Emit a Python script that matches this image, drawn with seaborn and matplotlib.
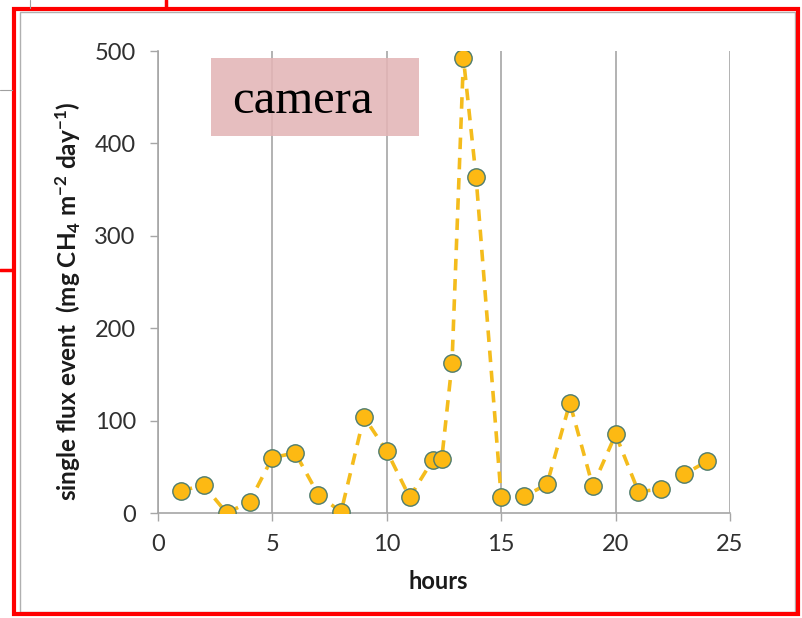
import matplotlib
matplotlib.use("Agg")
import matplotlib.pyplot as plt
import seaborn as sns
import pandas as pd
from matplotlib.patches import Rectangle

hours = [1, 2, 3, 4, 5, 6, 7, 8, 9, 10, 11, 12, 12.4, 12.85, 13.35, 13.9,
         15, 16, 17, 18, 19, 20, 21, 22, 23, 24]
flux = [24, 30, 0, 12, 60, 65, 20, 1, 104, 67, 17, 57, 58, 162, 492, 364,
        17, 18, 31, 119, 29, 85, 23, 26, 42, 56]
xticks = [0, 5, 10, 15, 20, 25]
yticks = [0, 100, 200, 300, 400, 500]
label_text = "camera"

sns.set_theme(style="white")
plt.rcParams['font.family'] = ['Lato', 'DejaVu Sans']
plt.rcParams['mathtext.fontset'] = 'custom'
plt.rcParams['mathtext.rm'] = 'Lato:bold'
plt.rcParams['mathtext.it'] = 'Lato:bold'
plt.rcParams['mathtext.bf'] = 'Lato:bold'
plt.rcParams['mathtext.default'] = 'rm'

W, H = 803, 618
fig = plt.figure(figsize=(W / 100, H / 100), dpi=100)
fig.patch.set_facecolor("white")

# frames
fig.add_artist(Rectangle((20 / W, 1 - 612 / H), 775 / W, 600 / H, transform=fig.transFigure,
                         fill=False, edgecolor="#B0B0B0", linewidth=1.0))
fig.add_artist(Rectangle((14 / W, 1 - 614 / H), 784 / W, 605 / H, transform=fig.transFigure,
                         fill=False, edgecolor="#FF0000", linewidth=3.0))
# small cropped artefacts at the left/top
fig.add_artist(plt.Line2D([0, 12 / W], [1 - 90 / H, 1 - 90 / H], transform=fig.transFigure,
                          color="#A0A0A0", lw=0.8))
fig.add_artist(plt.Line2D([0, 12 / W], [1 - 270 / H, 1 - 270 / H], transform=fig.transFigure,
                          color="#FF0000", lw=2.5))
fig.add_artist(plt.Line2D([166 / W, 166 / W], [1 - 8 / H, 1.0], transform=fig.transFigure,
                          color="#FF0000", lw=2.5))
fig.add_artist(plt.Line2D([30 / W, 30 / W], [1 - 8 / H, 1.0], transform=fig.transFigure,
                          color="#A0A0A0", lw=0.8))

ax = fig.add_axes([158 / W, 1 - 513 / H, (730 - 158) / W, (513 - 51) / H])
ax.set_facecolor("none")

df = pd.DataFrame({"hours": hours, "flux": flux})
sns.lineplot(data=df, x="hours", y="flux", ax=ax, sort=False,
             color="#F4BC1C", linewidth=2.6, linestyle="--",
             marker="o", markersize=12.5, markerfacecolor="#FDB913",
             markeredgecolor="#4E7C6E", markeredgewidth=1.0, zorder=3)
ax.lines[0].set_dashes([3.2, 2.4])

ax.set_xlim(0, 25)
ax.set_ylim(0, 500)
ax.set_xticks(xticks)
ax.set_yticks(yticks)
ax.xaxis.grid(True, color="#A6A6A6", linewidth=1.2)
ax.yaxis.grid(False)
for s in ["top", "right"]:
    ax.spines[s].set_visible(False)
for s in ["left", "bottom"]:
    ax.spines[s].set_color("#A6A6A6")
    ax.spines[s].set_linewidth(1.2)
ax.tick_params(axis="both", which="both", direction="out", length=6, width=1.0,
               color="#A6A6A6", labelsize=17, labelcolor="#303030")
ax.tick_params(axis="x", pad=9, bottom=True)
ax.tick_params(axis="y", pad=10, left=True)

ax.set_xlabel("hours", fontsize=17, fontweight="bold", color="#1a1a1a")
ax.xaxis.set_label_coords((438 - 158) / 572, (513 - 570) / 462)
ax.set_ylabel("single flux event  (mg CH$_4$ m$^{-2}$ day$^{-1}$)", fontsize=17.5,
              fontweight="bold", color="#1a1a1a")
ax.yaxis.set_label_coords((83 - 158) / 572, (513 - 301) / 462)

# "camera" label box
fig.add_artist(Rectangle((211 / W, 1 - 136 / H), 208 / W, 78 / H, transform=fig.transFigure,
                         facecolor="#E3B5B6", edgecolor="none", alpha=0.88, zorder=4))
fig.text(302.5 / W, 1 - 113 / H, label_text, ha="center", va="baseline", fontsize=35,
         family=["Liberation Serif", "DejaVu Serif"], color="black", zorder=5)

fig.savefig("out.png", dpi=100)
